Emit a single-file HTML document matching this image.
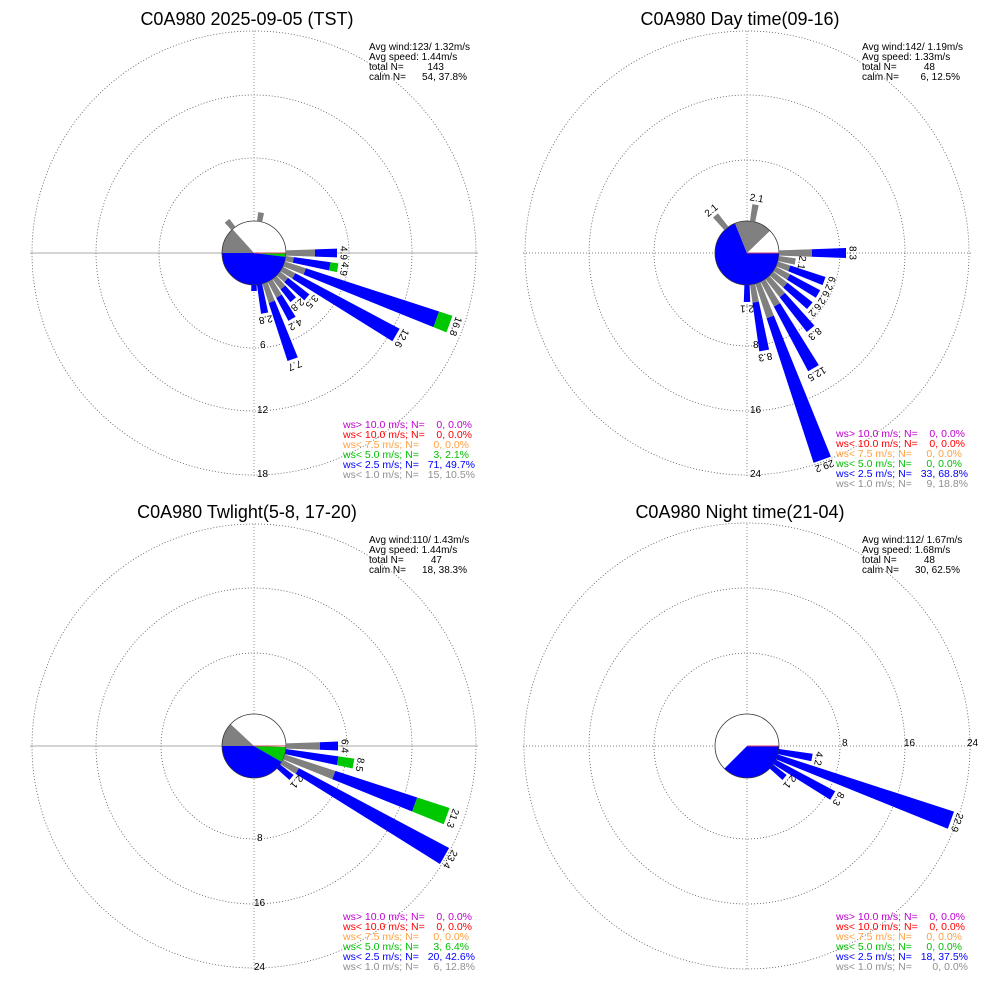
<!DOCTYPE html>
<html><head><meta charset="utf-8"><style>
html,body{margin:0;padding:0;background:#fff;}
svg{display:block;font-family:"Liberation Sans",sans-serif;}
.t{font-size:18px;text-anchor:middle;}
.s{font-size:10px;}
.l{font-size:10.5px;}
</style></head><body>
<svg id="svg" width="1000" height="1000" viewBox="0 0 1000 1000" xmlns="http://www.w3.org/2000/svg">
<rect width="1000" height="1000" fill="#fff"/>
<g id="shapes"></g>
<g id="texts">
<text class="t" x="247" y="25">C0A980 2025-09-05 (TST)</text>
<text class="t" x="740" y="25">C0A980 Day time(09-16)</text>
<text class="t" x="247" y="518">C0A980 Twlight(5-8, 17-20)</text>
<text class="t" x="740" y="518">C0A980 Night time(21-04)</text>

<g class="s">
<text x="369" y="50">Avg wind:123/ 1.32m/s</text><text x="369" y="60">Avg speed: 1.44m/s</text><text x="369" y="70">total N=</text><text x="444" y="70" text-anchor="end">143</text><text x="369" y="80">calm N=</text><text x="467" y="80" text-anchor="end">54,  37.8%</text>
<text x="862" y="50">Avg wind:142/ 1.19m/s</text><text x="862" y="60">Avg speed: 1.33m/s</text><text x="862" y="70">total N=</text><text x="935" y="70" text-anchor="end">48</text><text x="862" y="80">calm N=</text><text x="960" y="80" text-anchor="end">6,  12.5%</text>
<text x="369" y="543">Avg wind:110/ 1.43m/s</text><text x="369" y="553">Avg speed: 1.44m/s</text><text x="369" y="563">total N=</text><text x="442" y="563" text-anchor="end">47</text><text x="369" y="573">calm N=</text><text x="467" y="573" text-anchor="end">18,  38.3%</text>
<text x="862" y="543">Avg wind:112/ 1.67m/s</text><text x="862" y="553">Avg speed: 1.68m/s</text><text x="862" y="563">total N=</text><text x="935" y="563" text-anchor="end">48</text><text x="862" y="573">calm N=</text><text x="960" y="573" text-anchor="end">30,  62.5%</text>
</g>

<g class="l">
<text x="343" y="428" fill="#c000d0">ws&gt; 10.0 m/s; N=</text><text x="472" y="428" text-anchor="end" fill="#c000d0">0,  0.0%</text>
<text x="343" y="438" fill="#ff0000">ws&lt; 10.0 m/s; N=</text><text x="472" y="438" text-anchor="end" fill="#ff0000">0,  0.0%</text>
<text x="343" y="448" fill="#ffa040">ws&lt;  7.5 m/s; N=</text><text x="469" y="448" text-anchor="end" fill="#ffa040">0,  0.0%</text>
<text x="343" y="458" fill="#00c000">ws&lt;  5.0 m/s; N=</text><text x="469" y="458" text-anchor="end" fill="#00c000">3,  2.1%</text>
<text x="343" y="468" fill="#0000ff">ws&lt;  2.5 m/s; N=</text><text x="475" y="468" text-anchor="end" fill="#0000ff">71, 49.7%</text>
<text x="343" y="478" fill="#909090">ws&lt;  1.0 m/s; N=</text><text x="475" y="478" text-anchor="end" fill="#909090">15, 10.5%</text>

<text x="836" y="437" fill="#c000d0">ws&gt; 10.0 m/s; N=</text><text x="965" y="437" text-anchor="end" fill="#c000d0">0,  0.0%</text>
<text x="836" y="447" fill="#ff0000">ws&lt; 10.0 m/s; N=</text><text x="965" y="447" text-anchor="end" fill="#ff0000">0,  0.0%</text>
<text x="836" y="457" fill="#ffa040">ws&lt;  7.5 m/s; N=</text><text x="962" y="457" text-anchor="end" fill="#ffa040">0,  0.0%</text>
<text x="836" y="467" fill="#00c000">ws&lt;  5.0 m/s; N=</text><text x="962" y="467" text-anchor="end" fill="#00c000">0,  0.0%</text>
<text x="836" y="477" fill="#0000ff">ws&lt;  2.5 m/s; N=</text><text x="968" y="477" text-anchor="end" fill="#0000ff">33, 68.8%</text>
<text x="836" y="487" fill="#909090">ws&lt;  1.0 m/s; N=</text><text x="968" y="487" text-anchor="end" fill="#909090">9, 18.8%</text>

<text x="343" y="920" fill="#c000d0">ws&gt; 10.0 m/s; N=</text><text x="472" y="920" text-anchor="end" fill="#c000d0">0,  0.0%</text>
<text x="343" y="930" fill="#ff0000">ws&lt; 10.0 m/s; N=</text><text x="472" y="930" text-anchor="end" fill="#ff0000">0,  0.0%</text>
<text x="343" y="940" fill="#ffa040">ws&lt;  7.5 m/s; N=</text><text x="469" y="940" text-anchor="end" fill="#ffa040">0,  0.0%</text>
<text x="343" y="950" fill="#00c000">ws&lt;  5.0 m/s; N=</text><text x="469" y="950" text-anchor="end" fill="#00c000">3,  6.4%</text>
<text x="343" y="960" fill="#0000ff">ws&lt;  2.5 m/s; N=</text><text x="475" y="960" text-anchor="end" fill="#0000ff">20, 42.6%</text>
<text x="343" y="970" fill="#909090">ws&lt;  1.0 m/s; N=</text><text x="475" y="970" text-anchor="end" fill="#909090">6, 12.8%</text>

<text x="836" y="920" fill="#c000d0">ws&gt; 10.0 m/s; N=</text><text x="965" y="920" text-anchor="end" fill="#c000d0">0,  0.0%</text>
<text x="836" y="930" fill="#ff0000">ws&lt; 10.0 m/s; N=</text><text x="965" y="930" text-anchor="end" fill="#ff0000">0,  0.0%</text>
<text x="836" y="940" fill="#ffa040">ws&lt;  7.5 m/s; N=</text><text x="962" y="940" text-anchor="end" fill="#ffa040">0,  0.0%</text>
<text x="836" y="950" fill="#00c000">ws&lt;  5.0 m/s; N=</text><text x="962" y="950" text-anchor="end" fill="#00c000">0,  0.0%</text>
<text x="836" y="960" fill="#0000ff">ws&lt;  2.5 m/s; N=</text><text x="968" y="960" text-anchor="end" fill="#0000ff">18, 37.5%</text>
<text x="836" y="970" fill="#909090">ws&lt;  1.0 m/s; N=</text><text x="968" y="970" text-anchor="end" fill="#909090">0,  0.0%</text>
</g>

<g class="s">
<text x="260" y="348">6</text><text x="257" y="413">12</text><text x="257" y="477">18</text>
<text x="753" y="348">8</text><text x="750" y="413">16</text><text x="750" y="477">24</text>
<text x="257" y="841">8</text><text x="254" y="906">16</text><text x="254" y="970">24</text>
<text x="842" y="746">8</text><text x="904" y="746">16</text><text x="967" y="746">24</text>
</g>
</g>
</svg>
<script>
(function(){
var NS="http://www.w3.org/2000/svg";
var G=document.getElementById("shapes");
var T=document.getElementById("texts");
function el(n,a,p){var e=document.createElementNS(NS,n);for(var k in a)e.setAttribute(k,a[k]);(p||G).appendChild(e);return e;}
function P(cx,cy,r,b){var a=b*Math.PI/180;return [cx+r*Math.sin(a),cy-r*Math.cos(a)];}
function Q(cx,cy,r,b,s){var a=b*Math.PI/180;var w=s*(1.5+r*0.035);var x=cx+r*Math.sin(a),y=cy-r*Math.cos(a);return [x+w*Math.cos(a),y+w*Math.sin(a)];}
var GR="#808080",BL="#0000ff",GN="#00c800";
var panels=[
{cx:254,cy:253,solidH:true,rings:[95,158,222],
 pie:[[GN,90,97],[BL,97,270],[GR,270,318]],
 bars:[[90,[[GR,61],[BL,83]],"4.9"],[100,[[GR,40],[BL,77],[GN,85]],"4.9"],[110,[[GR,54],[BL,194],[GN,208]],"16.8"],
 [120,[[GR,46],[BL,164]],"12.6"],[130,[[GR,42],[BL,69]],"3.5"],[140,[[GR,45],[BL,61]],"2.8"],[150,[[GR,50],[BL,76]],"4.2"],
 [160,[[GR,52],[BL,113]],"7.7"],[170,[[BL,61]],"2.8"],[180,[[BL,38]],""],[10,[[GR,41]],""],[320,[[GR,42]],""]]},
{cx:747,cy:253,solidH:false,rings:[93,158,222],
 pie:[[BL,90,338],[GR,338,406]],
 bars:[[90,[[GR,65],[BL,99]],"8.3"],[100,[[GR,49]],"2.1"],[110,[[GR,45],[BL,82]],"6.2"],[120,[[GR,48],[BL,82]],"6.2"],
 [130,[[GR,50],[BL,82]],"6.2"],[140,[[GR,55],[BL,99]],"8.3"],[150,[[GR,60],[BL,133]],"12.5"],[160,[[GR,68],[BL,220]],"29.2"],
 [170,[[GR,50],[BL,99]],"8.3"],[180,[[BL,49]],"2.1"],[10,[[GR,49]],"2.1"],[320,[[GR,49]],"2.1"]]},
{cx:254,cy:746,solidH:true,rings:[93,158,222],
 pie:[[GN,92,120],[BL,120,270],[GR,270,313]],
 bars:[[90,[[GR,66],[BL,84]],"6.4"],[100,[[BL,85],[GN,101]],"8.5"],[110,[[GR,85],[BL,171],[GN,205]],"21.3"],
 [120,[[GR,50],[BL,220]],"23.4"],[130,[[BL,49]],"2.1"]]},
{cx:747,cy:746,solidH:false,rings:[93,158,223],
 pie:[[BL,90,225]],
 bars:[[100,[[BL,66]],"4.2"],[110,[[BL,217]],"22.9"],[120,[[BL,99]],"8.3"],[130,[[BL,49]],"2.1"]]}
];
panels.forEach(function(p){
 var cx=p.cx,cy=p.cy;
 p.rings.forEach(function(r){el("circle",{cx:cx,cy:cy,r:r,fill:"none",stroke:"#555","stroke-width":0.8,"stroke-dasharray":"1,2"});});
 el("line",{x1:cx-224,y1:cy,x2:cx+224,y2:cy,stroke:p.solidH?"#aaa":"#555","stroke-width":p.solidH?1:0.8,"stroke-dasharray":p.solidH?"none":"1,2"});
 el("line",{x1:cx,y1:cy-222,x2:cx,y2:cy+224,stroke:"#777","stroke-width":0.8,"stroke-dasharray":"1,2"});
 el("circle",{cx:cx,cy:cy,r:32,fill:"#fff",stroke:"none"});
 p.pie.forEach(function(s){
  var a=P(cx,cy,32,s[1]),b=P(cx,cy,32,s[2]),lg=(s[2]-s[1])>180?1:0;
  el("path",{d:"M"+cx+","+cy+"L"+a[0]+","+a[1]+"A32,32 0 "+lg+" 1 "+b[0]+","+b[1]+"Z",fill:s[0]});
 });
 el("line",{x1:cx,y1:cy,x2:cx+32,y2:cy,stroke:"#d04060","stroke-width":1});
 el("circle",{cx:cx,cy:cy,r:32,fill:"none",stroke:"#333","stroke-width":0.8});
 p.bars.forEach(function(bb){
  var b=bb[0],r0=32;
  bb[1].forEach(function(seg){
   var r1=seg[1];
   var a=Q(cx,cy,r0,b,-1),c=Q(cx,cy,r1,b,-1),d=Q(cx,cy,r1,b,1),e=Q(cx,cy,r0,b,1);
   el("path",{d:"M"+a+"L"+c+"L"+d+"L"+e+"Z",fill:seg[0]});
   r0=r1;
  });
  if(bb[2]){
   var q=P(cx,cy,r0+6,b);
   var t=el("text",{x:q[0],y:q[1],"font-size":"10","text-anchor":"middle","dominant-baseline":"middle",transform:"rotate("+b+" "+q[0]+" "+q[1]+")"},T);
   t.textContent=bb[2];
  }
 });
});
})();
</script>
</body></html>
